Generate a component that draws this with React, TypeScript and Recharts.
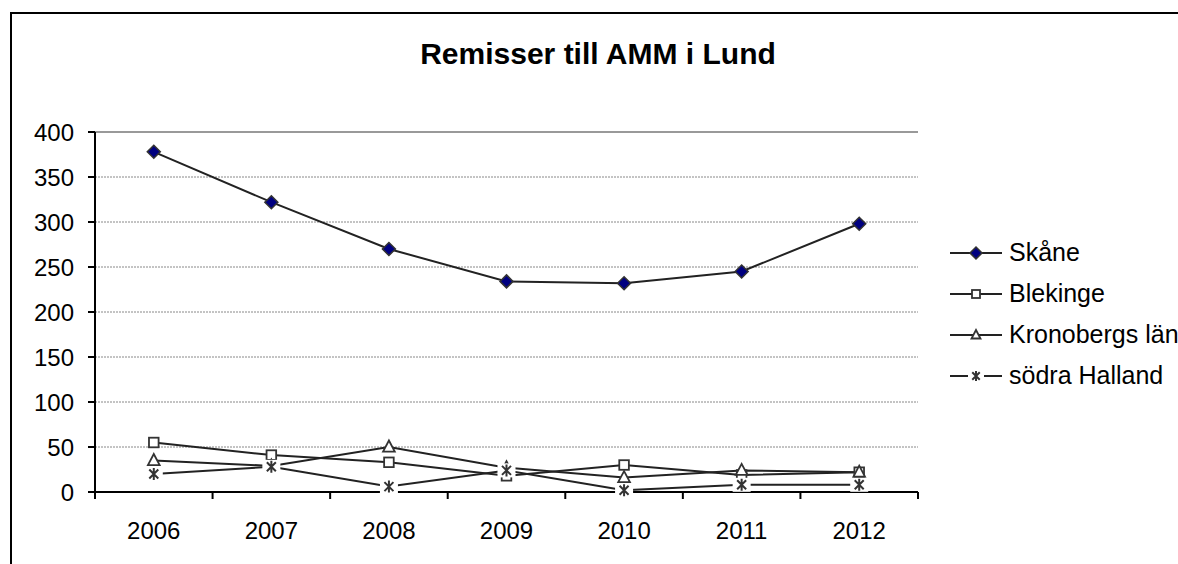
import React from 'react';
import { LineChart, Line, XAxis, YAxis, CartesianGrid, ReferenceLine } from 'recharts';

const YEARS = ['2006', '2007', '2008', '2009', '2010', '2011', '2012'];
const SKANE = [378, 322, 270, 234, 232, 245, 298];
const BLEKINGE = [55, 41, 33, 18, 30, 19, 22];
const KRONOBERG = [35, 29, 50, 27, 16, 24, 22];
const HALLAND = [20, 28, 6, 24, 2, 8, 8];
const Y_TICKS = [0, 50, 100, 150, 200, 250, 300, 350, 400];

const SERIES = [
  { key: 'skane', name: 'Skåne', shape: 'diamond' },
  { key: 'blekinge', name: 'Blekinge', shape: 'square' },
  { key: 'kronoberg', name: 'Kronobergs län', shape: 'triangle' },
  { key: 'halland', name: 'södra Halland', shape: 'star' },
];

const data = YEARS.map((year, i) => ({
  year,
  skane: SKANE[i],
  blekinge: BLEKINGE[i],
  kronoberg: KRONOBERG[i],
  halland: HALLAND[i],
}));

const W = 1178;
const H = 564;
const M = { top: 132, right: 260, left: 0, bottom: 0 };
const Y_W = 95;
const X_H = 72;
const PLOT_W = W - M.left - M.right - Y_W;
const STEP = PLOT_W / YEARS.length;
const FONT = '"Liberation Sans", Arial, sans-serif';
const FS = 24;
const LINE = '#222';

// marker drawing, shared by the lines and the legend
const drawMarker = (shape: string, cx: number, cy: number, s: number, key?: any) => {
  if (shape === 'diamond') {
    return (
      <polygon key={key} points={`${cx},${cy - s} ${cx + s},${cy} ${cx},${cy + s} ${cx - s},${cy}`}
        fill="#000080" stroke="#333" strokeWidth={1.5} />
    );
  }
  if (shape === 'square') {
    const h = s * 0.8;
    return <rect key={key} x={cx - h} y={cy - h} width={h * 2} height={h * 2} fill="#fff" stroke="#333" strokeWidth={1.8} />;
  }
  if (shape === 'triangle') {
    return (
      <polygon key={key} points={`${cx},${cy - s} ${cx + s * 0.9},${cy + s * 0.7} ${cx - s * 0.9},${cy + s * 0.7}`}
        fill="#fff" stroke="#333" strokeWidth={1.8} />
    );
  }
  const a = s * 0.75;
  return (
    <g key={key}>
      <rect x={cx - s - 3} y={cy - s - 1} width={(s + 3) * 2} height={(s + 1) * 2} fill="#fff" />
      <path d={`M${cx - a},${cy - a}L${cx + a},${cy + a}M${cx + a},${cy - a}L${cx - a},${cy + a}M${cx},${cy - s}L${cx},${cy + s}`}
        stroke="#333" strokeWidth={2} />
    </g>
  );
};

const dotFor = (shape: string, s: number) => (props: any) =>
  drawMarker(shape, props.cx, props.cy, s, `${shape}-${props.index}`);

const XTick = (props: any) => {
  const { x, y, payload, index } = props;
  const top = y - 30;
  return (
    <g>
      <line x1={x - STEP / 2} x2={x - STEP / 2} y1={top} y2={top + 7} stroke="#000" strokeWidth={2} />
      {index === YEARS.length - 1 && (
        <line x1={x + STEP / 2} x2={x + STEP / 2} y1={top} y2={top + 7} stroke="#000" strokeWidth={2} />
      )}
      <text x={x} y={y} dy="0.71em" textAnchor="middle" fontSize={FS} fontFamily={FONT} fill="#000">
        {payload.value}
      </text>
    </g>
  );
};

const LegendBox = () => (
  <div style={{ fontFamily: FONT, fontSize: 25, color: '#000', whiteSpace: 'nowrap' }}>
    {SERIES.map((s) => (
      <div key={s.key} style={{ display: 'flex', alignItems: 'center', height: 41 }}>
        <svg width={59} height={20} style={{ flex: 'none' }}>
          <line x1={0} x2={52} y1={10} y2={10} stroke={LINE} strokeWidth={2} />
          {drawMarker(s.shape, 26, 10, s.shape === 'diamond' ? 6 : 5)}
        </svg>
        <span>{s.name}</span>
      </div>
    ))}
  </div>
);

const App = () => {
  const sizes: Record<string, number> = { diamond: 6.5, square: 6, triangle: 6.5, star: 6 };
  return (
    <div style={{ position: 'absolute', left: 0, top: 0, width: W, height: H, background: '#fff', overflow: 'hidden' }}>
      <div style={{ position: 'absolute', left: 10, top: 12, right: 0, bottom: 0, borderLeft: '2px solid #000', borderTop: '2px solid #000' }} />
      <div style={{ position: 'absolute', left: 10, width: 1176, top: 37, textAlign: 'center', fontFamily: FONT, fontWeight: 'bold', fontSize: 30, color: '#000' }}>
        Remisser till AMM i Lund
      </div>
      <div style={{ position: 'absolute', left: 0, top: 0 }}>
        <LineChart width={W} height={H} data={data} margin={M}>
          <CartesianGrid vertical={false} stroke="#888" strokeDasharray="2 1" />
          <XAxis dataKey="year" height={X_H} interval={0} padding={{ left: STEP / 2, right: STEP / 2 }}
            axisLine={{ stroke: '#000', strokeWidth: 2 }} tickLine={false} tickSize={7} tickMargin={23} tick={<XTick />} />
          <YAxis width={Y_W} domain={[0, 400]} ticks={Y_TICKS} interval={0}
            axisLine={{ stroke: '#000', strokeWidth: 2 }} tickLine={{ stroke: '#000', strokeWidth: 2 }} tickSize={7} tickMargin={14}
            tick={{ fill: '#000', fontSize: FS, fontFamily: FONT }} />
          <YAxis yAxisId="frame" orientation="right" width={0} tick={false} tickLine={false}
            axisLine={{ stroke: '#999', strokeWidth: 2 }} />
          <ReferenceLine y={400} stroke="#999" strokeWidth={2} />
          {SERIES.map((s) => (
            <Line key={s.key} dataKey={s.key} name={s.name} stroke={LINE} strokeWidth={2} isAnimationActive={false}
              dot={dotFor(s.shape, sizes[s.shape])} activeDot={false} />
          ))}
        </LineChart>
      </div>
      <div style={{ position: 'absolute', left: 950, top: 232 }}>
        <LegendBox />
      </div>
    </div>
  );
};

export default App;
